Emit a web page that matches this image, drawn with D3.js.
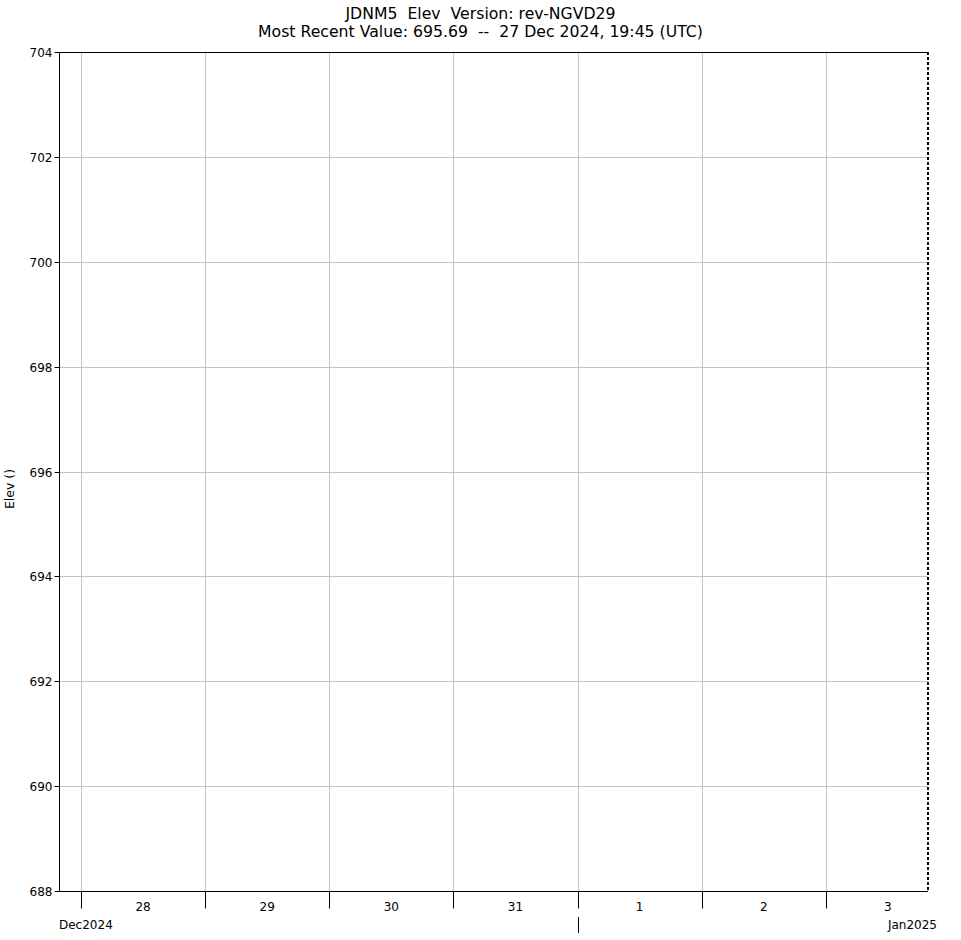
<!DOCTYPE html>
<html><head><meta charset="utf-8">
<script src="https://cdn.jsdelivr.net/npm/d3@7"></script>
<style>body{margin:0;background:#fff}svg{display:block;font-family:"DejaVu Sans",sans-serif}text{white-space:pre}</style>
</head><body>
<script>
const titleLines = ["JDNM5  Elev  Version: rev-NGVD29", "Most Recent Value: 695.69  --  27 Dec 2024, 19:45 (UTC)"];
const yLabel = "Elev ()";
const yTicks = [688, 690, 692, 694, 696, 698, 700, 702, 704];
const xStart = "2024-12-27T19:45:00Z";
const xEnd = "2025-01-03T19:45:00Z";
const dayTicks = ["2024-12-28", "2024-12-29", "2024-12-30", "2024-12-31", "2025-01-01", "2025-01-02", "2025-01-03"];
const dayLabels = ["28", "29", "30", "31", "1", "2", "3"];
const monthTicks = ["2025-01-01"];
const monthLabels = ["Dec2024", "Jan2025"];
const seriesTimes = [];
const seriesValues = [];

const W = 961, H = 940;
const m = {l: 59, t: 52, r: 928, b: 891};
const svg = d3.select("body").append("svg").attr("width", W).attr("height", H);
const x = d3.scaleUtc().domain([new Date(xStart), new Date(xEnd)]).range([m.l, m.r]);
const y = d3.scaleLinear().domain([688, 704]).range([m.b, m.t]);

// grid
svg.append("g").selectAll("line").data(yTicks).join("line")
  .attr("x1", m.l).attr("x2", m.r).attr("y1", d => Math.round(y(d)) + 0.5).attr("y2", d => Math.round(y(d)) + 0.5)
  .attr("stroke", "#c4c4c4").attr("stroke-width", 1);
svg.append("g").selectAll("line").data(dayTicks).join("line")
  .attr("x1", d => Math.round(x(new Date(d + "T00:00:00Z"))) + 0.5).attr("x2", d => Math.round(x(new Date(d + "T00:00:00Z"))) + 0.5)
  .attr("y1", m.t).attr("y2", m.b)
  .attr("stroke", "#c4c4c4").attr("stroke-width", 1);

// data line (empty in this window)
const line = d3.line().x((d, i) => x(new Date(seriesTimes[i]))).y(d => y(d));
svg.append("path").datum(seriesValues).attr("d", line).attr("fill", "none").attr("stroke", "#000");

// frame
svg.append("line").attr("x1", m.l).attr("x2", m.r).attr("y1", m.t + 0.5).attr("y2", m.t + 0.5).attr("stroke", "#000");
svg.append("line").attr("x1", m.l).attr("x2", m.r).attr("y1", m.b + 0.5).attr("y2", m.b + 0.5).attr("stroke", "#000");
svg.append("line").attr("x1", m.r).attr("x2", m.r).attr("y1", m.t).attr("y2", m.b + 1).attr("stroke", "#000").attr("stroke-width", 2).attr("stroke-dasharray", "3,2");

// y axis
const yAxis = d3.axisLeft(y).tickValues(yTicks).tickSize(5).tickPadding(2).tickFormat(d3.format("d"));
const ga = svg.append("g").attr("transform", `translate(${m.l + 0.5},0)`).call(yAxis);
ga.select(".domain").attr("d", `M0,${m.t}V${m.b + 1}`);
ga.selectAll(".tick").attr("transform", d => `translate(0,${Math.round(y(d)) + 0.5})`);
ga.selectAll("text").attr("font-size", "12px").attr("font-family", "DejaVu Sans").attr("fill", "#000").attr("dy", "0.35em");

// x axis: day ticks
const gx = svg.append("g").attr("transform", `translate(0,${m.b + 0.5})`);
const xAxis = d3.axisBottom(x).tickValues(dayTicks.map(d => new Date(d + "T00:00:00Z"))).tickSize(17).tickFormat("");
gx.call(xAxis);
gx.select(".domain").remove();
gx.selectAll(".tick").attr("transform", d => `translate(${Math.round(x(d)) + 0.5},0)`);
svg.append("g").selectAll("text").data(dayTicks).join("text")
  .attr("x", d => x(new Date(d + "T12:00:00Z"))).attr("y", 911)
  .attr("text-anchor", "middle").attr("font-size", "12px").text((d, i) => dayLabels[i]);
// month ticks
svg.append("g").selectAll("line").data(monthTicks).join("line")
  .attr("x1", d => Math.round(x(new Date(d + "T00:00:00Z"))) + 0.5).attr("x2", d => Math.round(x(new Date(d + "T00:00:00Z"))) + 0.5)
  .attr("y1", 917).attr("y2", 933).attr("stroke", "#000");
svg.append("text").attr("x", m.l).attr("y", 929).attr("font-size", "12px").text(monthLabels[0]);
svg.append("text").attr("x", 937).attr("y", 929).attr("text-anchor", "end").attr("font-size", "12px").text(monthLabels[1]);

// titles
svg.selectAll(".title").data(titleLines).join("text").attr("class", "title")
  .attr("x", 480.5).attr("y", (d, i) => 19 + i * 18).attr("text-anchor", "middle")
  .attr("font-size", "15.7px").text(d => d);

svg.append("text").attr("transform", `translate(14,489) rotate(-90)`)
  .attr("text-anchor", "middle").attr("font-size", "12.5px").text(yLabel);
</script>
</body></html>
